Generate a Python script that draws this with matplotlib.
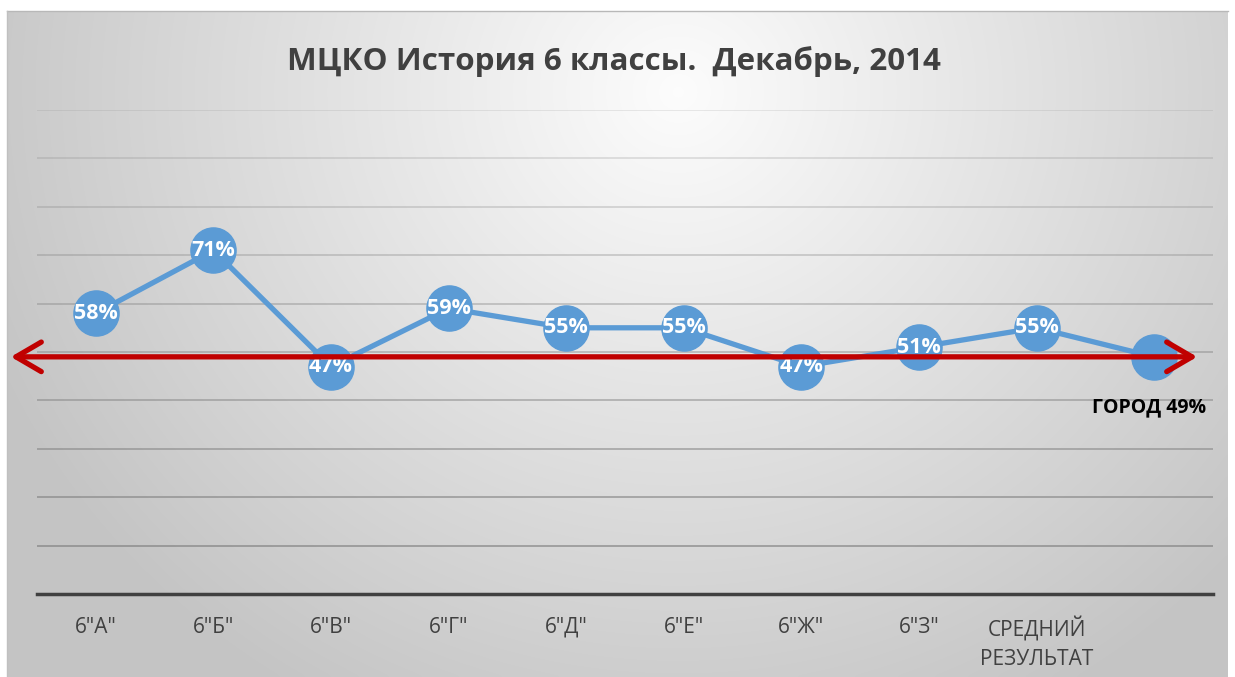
import numpy as np
import matplotlib
matplotlib.use("Agg")
import matplotlib.pyplot as plt
import matplotlib.transforms as mtransforms
from matplotlib.patches import FancyArrowPatch

categories = ['6"А"', '6"Б"', '6"В"', '6"Г"', '6"Д"', '6"Е"', '6"Ж"', '6"З"', 'СРЕДНИЙ\nРЕЗУЛЬТАТ', '']
values = [58, 71, 47, 59, 55, 55, 47, 51, 55, 49]
labels = ['58%', '71%', '47%', '59%', '55%', '55%', '47%', '51%', '55%', '']
city_value = 49
city_label = 'ГОРОД 49%'
title = 'МЦКО История 6 классы.  Декабрь, 2014'

plt.rcParams['font.family'] = ['Open Sans', 'DejaVu Sans']

W, H = 1235, 677
fig = plt.figure(figsize=(W / 100, H / 100), dpi=100)
fig.patch.set_facecolor('white')

# background gradient panel
bg = fig.add_axes([7 / W, 0, (1228 - 7) / W, (H - 11) / H])
bg.set_axis_off()
ny, nx = 200, 400
yy, xx = np.mgrid[0:1:ny * 1j, 0:1:nx * 1j]
d = np.sqrt(((xx - 0.55) / 0.75) ** 2 + ((yy - 0.12) / 1.3) ** 2)
val = np.clip(0.99 - 0.27 * d, 0.77, 1.0)
img = np.dstack([val, val, val])
bg.imshow(img, extent=[0, 1, 0, 1], origin='upper', aspect='auto', interpolation='bicubic')
bg.set_xlim(0, 1)
bg.set_ylim(0, 1)
fig.add_artist(plt.Line2D([7 / W, 1228 / W], [1 - 11 / H, 1 - 11 / H], color='#b8b8b8', lw=1))
fig.add_artist(plt.Line2D([7 / W, 7 / W], [0, 1 - 11 / H], color='#c0c0c0', lw=1))

# main axes
left, right = 37 / W, 1213 / W
bottom, top = 1 - 594 / H, 1 - 110 / H
ax = fig.add_axes([left, bottom, right - left, top - bottom])
ax.patch.set_alpha(0)
x = np.arange(len(categories))
ax.set_xlim(-0.5, len(categories) - 0.5)
ax.set_ylim(0, 100)
grid_levels = np.arange(10, 101, 10)
for g in grid_levels:
    a = 0.75 - 0.55 * (g - 10) / 90
    ax.axhline(g, color='#7a7a7a', lw=1.1, alpha=a, zorder=0)
ax.set_yticks([])
ax.tick_params(axis='x', bottom=False, pad=13, labelsize=15, labelcolor='#404040')
for s in ['top', 'left', 'right']:
    ax.spines[s].set_visible(False)
ax.spines['bottom'].set_color('#404040')
ax.spines['bottom'].set_linewidth(2.5)
ax.set_xticks(x)
ax.set_xticklabels(categories, linespacing=1.45, va='top')

ax.plot(x, values, color='#5B9BD5', lw=3.8, marker='o', markersize=32.5,
        markerfacecolor='#5B9BD5', markeredgecolor='#5B9BD5', zorder=3)
for xi, v, lab in zip(x, values, labels):
    if lab:
        ax.text(xi, v, lab, ha='center', va='center', color='white',
                fontsize=15.5, fontweight='bold', zorder=5)

# city arrow
trans = mtransforms.blended_transform_factory(fig.transFigure, ax.transData)
arr = FancyArrowPatch((8 / W, city_value), (1200 / W, city_value), transform=trans,
                      arrowstyle='<->,head_length=0.65,head_width=0.38',
                      mutation_scale=28, color='#C00000', lw=3.8, zorder=6,
                      capstyle='round', joinstyle='round')
fig.add_artist(arr)
fig.text(1206 / W, 1 - 407 / H, city_label, ha='right', va='center',
         fontsize=14, fontweight='bold', color='black')

fig.text(614 / W, 1 - 62 / H, title, ha='center', va='center',
         fontsize=22.6, fontweight='bold', color='#404040')

fig.savefig('out.png', dpi=100, facecolor='white')
